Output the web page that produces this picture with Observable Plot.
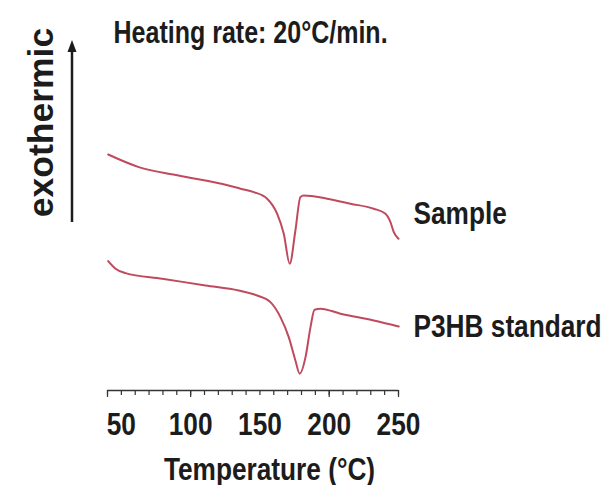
<!DOCTYPE html>
<html>
<head>
<meta charset="utf-8">
<script src="https://cdn.jsdelivr.net/npm/d3@7"></script>
<script src="https://cdn.jsdelivr.net/npm/@observablehq/plot@0.6"></script>
<style>
  html, body { margin: 0; padding: 0; background: #fff; }
</style>
</head>
<body>
<div id="chart"></div>
<script>
// Temperature (°C) and heat flow (arbitrary units, exothermic up)
const sampleTemp = [40.5, 62.6, 91.2, 127.3, 136, 145.6, 155.2, 162.4, 167.2, 171.5, 175.6, 179.2, 181.6, 198.5, 215.3, 232.1, 240.6, 244.2, 246.6, 250];
const sampleHeat = [11.80, 11.17, 10.75, 10.25, 10.09, 9.92, 9.59, 8.84, 7.84, 6.34, 8.00, 9.67, 9.75, 9.59, 9.34, 9.09, 8.84, 8.42, 7.92, 7.59];

const p3hbTemp = [40.5, 45.8, 53.0, 79.5, 110.7, 134.7, 148.0, 157.6, 164.8, 170.8, 175.6, 178.7, 182.9, 186.5, 189.4, 193.7, 208.1, 232.1, 250.2];
const p3hbHeat = [6.47, 6.09, 5.87, 5.59, 5.25, 5.00, 4.75, 4.42, 3.67, 2.67, 1.50, 0.84, 1.67, 3.17, 4.04, 4.09, 3.84, 3.50, 3.20];

const seriesNames = ["Sample", "P3HB standard"];
const seriesLabelTemp = [250, 250];
const seriesLabelHeat = [8.85, 3.2];

const tickLabels = [50, 100, 150, 200, 250];
const minorTicks = d3.range(40, 251, 10);
const majorTicks = [40, 100, 200, 250];

const titleText = "Heating rate: 20°C/min.";
const xLabel = "Temperature (°C)";
const yLabel = "exothermic";

const sampleData = sampleTemp.map((t, i) => ({t, h: sampleHeat[i]}));
const p3hbData = p3hbTemp.map((t, i) => ({t, h: p3hbHeat[i]}));
const labelData = seriesNames.map((name, i) => ({name, t: seriesLabelTemp[i], h: seriesLabelHeat[i]}));

const lineColor = "#bf4a5e";
const ink = "#1c1c1c";
const sans = "'Liberation Sans', Arial, sans-serif";

const chart = Plot.plot({
  width: 605,
  height: 485,
  marginTop: 0,
  marginBottom: 95,
  marginLeft: 107,
  marginRight: 207,
  x: {domain: [40, 250]},
  y: {domain: [0, 19.5], axis: null},
  style: {fontFamily: sans, fontWeight: "bold", color: ink, background: "#fff", overflow: "visible"},
  marks: [
    Plot.ruleY([0], {stroke: "#333", strokeWidth: 1.5}),
    Plot.axisX({ticks: minorTicks, tickSize: 5, tickFormat: () => "", stroke: "#333", strokeWidth: 1.2, label: null}),
    Plot.axisX({ticks: majorTicks, tickSize: 7, tickFormat: () => "", stroke: "#333", strokeWidth: 1.2, label: null}),
    Plot.axisX({ticks: tickLabels, tickSize: 0, tickPadding: 22, fontSize: 32, fontWeight: "bold", fill: ink, label: null, className: "narrow"}),
    Plot.text([xLabel], {frameAnchor: "bottom", dx: 16.5, dy: 89, lineAnchor: "bottom", fontSize: 32, fontWeight: "bold", fill: ink, className: "narrow"}),
    Plot.text([titleText], {frameAnchor: "top-left", dx: 6, dy: 42, lineAnchor: "bottom", textAnchor: "start", fontSize: 30.5, fontWeight: "bold", fill: ink, className: "narrow"}),
    Plot.text([yLabel], {frameAnchor: "left", dx: -66, dy: -73, rotate: -90, textAnchor: "middle", lineAnchor: "middle", fontSize: 35.5, fontWeight: "bold", fill: ink}),
    Plot.line(sampleData, {x: "t", y: "h", stroke: lineColor, strokeWidth: 2, curve: "monotone-x"}),
    Plot.line(p3hbData, {x: "t", y: "h", stroke: lineColor, strokeWidth: 2, curve: "monotone-x"}),
    Plot.text(labelData, {x: "t", y: "h", text: "name", dx: 15, textAnchor: "start", lineAnchor: "middle", fontSize: 32, fontWeight: "bold", fill: ink, className: "narrow"})
  ]
});

document.getElementById("chart").appendChild(chart);

// Emulate a condensed (Arial Narrow-like) face by compressing glyphs horizontally
d3.select(chart).selectAll(".narrow text").each(function() {
  const w = this.getComputedTextLength();
  if (w > 0) {
    this.setAttribute("textLength", (w * 0.82).toFixed(1));
    this.setAttribute("lengthAdjust", "spacingAndGlyphs");
  }
});

// "exothermic" direction arrow (annotation)
const svg = d3.select(chart);
svg.append("line")
  .attr("x1", 72).attr("y1", 222).attr("x2", 72).attr("y2", 50)
  .attr("stroke", ink).attr("stroke-width", 2.5);
svg.append("path")
  .attr("d", "M72,40 L67.5,52 L76.5,52 Z")
  .attr("fill", ink);
</script>
</body>
</html>
